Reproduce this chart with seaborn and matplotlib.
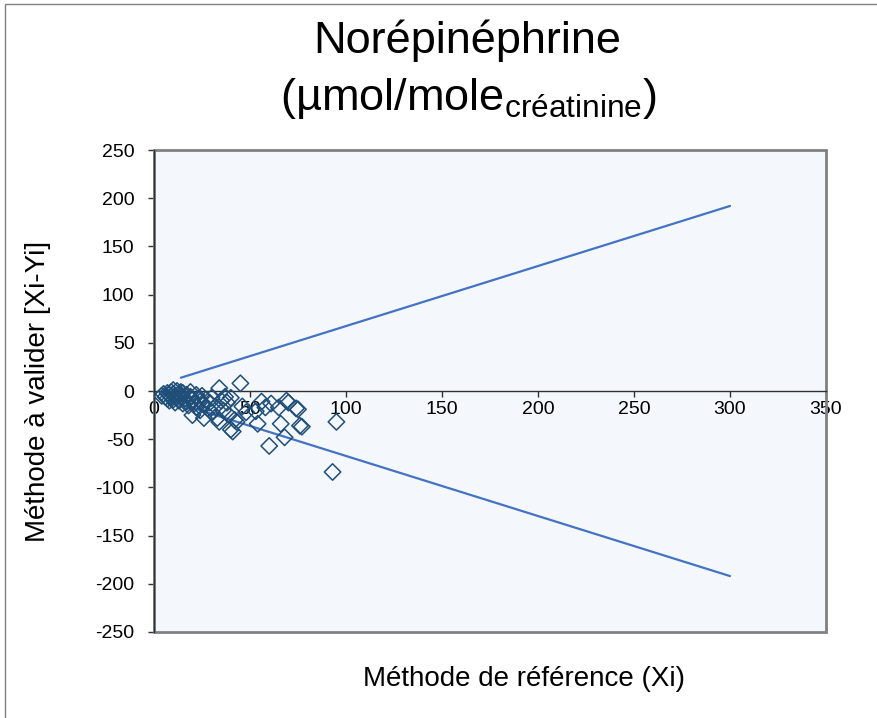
import matplotlib

matplotlib.use("Agg")
import matplotlib.pyplot as plt
import pandas as pd
import seaborn as sns
from matplotlib.patches import Rectangle

# valeurs
ref_x = [4, 5, 6, 7, 7, 8, 8, 9, 9, 10, 10, 10, 11, 11, 12, 12, 13, 13, 14, 14,
         15, 15, 16, 17, 17, 18, 19, 19, 20, 20, 21, 22, 22, 23, 24, 24, 25, 26,
         26, 27, 28, 29, 30, 30, 32, 33, 34, 34, 35, 36, 37, 38, 39, 40, 40, 41,
         42, 43, 45, 46, 48, 53, 54, 56, 58, 60, 61, 65, 66, 68, 69, 70, 74, 75,
         76, 77, 93, 95]
diff_y = [-5, -3, -6, -2, -8, -4, -10, -1, -6, -3, -9, 1, -5, -12, -7, 0, -3, -10,
          -6, -1, -2, -13, -8, -4, -11, -15, -6, -1, -9, -25, -13, -4, -17, -8,
          -11, -20, -5, -14, -28, -9, -18, -12, -7, -22, -16, -28, -32, 3, -10,
          -20, -6, -12, -25, -40, -7, -42, -30, -32, 8, -16, -22, -21, -34, -11,
          -17, -57, -13, -17, -34, -48, -10, -12, -18, -19, -36, -37, -84, -32]

limite_x = [14, 300]
limite_haute = [13.8, 192]
limite_basse = [-13.8, -192]

points = pd.DataFrame({"x": ref_x, "y": diff_y})

sns.set_theme(style="white")
plt.rcParams["font.family"] = ["Liberation Sans", "DejaVu Sans"]
plt.rcParams["axes.unicode_minus"] = False
plt.rcParams["text.color"] = "black"
plt.rcParams["xtick.color"] = "black"
plt.rcParams["ytick.color"] = "black"

fig = plt.figure(figsize=(8.78, 7.18), dpi=100)
ax = fig.add_axes([0.1754, 0.1198, 0.7654, 0.6712])
ax.set_facecolor("#F4F8FC")

sns.scatterplot(data=points, x="x", y="y", ax=ax, marker="D", s=70,
                facecolor="none", edgecolor="#1F4E79", linewidth=1.1, zorder=3)
sns.lineplot(x=limite_x, y=limite_haute, ax=ax, color="#4472C4", linewidth=1.6,
             estimator=None, zorder=2)
sns.lineplot(x=limite_x, y=limite_basse, ax=ax, color="#4472C4", linewidth=1.6,
             estimator=None, zorder=2)

ax.set_xlim(0, 350)
ax.set_ylim(-250, 250)
ax.set_xticks(range(0, 351, 50))
ax.set_yticks(range(-250, 251, 50))

ax.spines["bottom"].set_position(("data", 0))
ax.spines["bottom"].set_color("#303030")
ax.spines["left"].set_color("#303030")
ax.spines["bottom"].set_linewidth(1.0)
ax.spines["left"].set_linewidth(1.0)
for side in ["top", "right"]:
    ax.spines[side].set_visible(False)
ax.add_patch(Rectangle((0, 0), 1, 1, transform=ax.transAxes, fill=False,
                       edgecolor="#808080", linewidth=2, clip_on=False, zorder=1))

ax.tick_params(axis="both", which="major", direction="out", length=4, width=1,
               color="#303030", labelcolor="black", labelsize=14, bottom=True, left=True)
ax.tick_params(axis="y", pad=10)
ax.tick_params(axis="x", pad=3)

ax.set_xlabel("")
ax.set_ylabel("")
fig.text(524 / 878, 1 - 686 / 718, "Méthode de référence (Xi)", ha="center",
         va="baseline", fontsize=20, color="black")
fig.text(0.043, 1 - 391 / 718, "Méthode à valider [Xi-Yi]", ha="center", va="center",
         fontsize=20, rotation=90, color="black")
fig.text(467 / 878, 1 - 53 / 718, "Norépinéphrine", ha="center", va="baseline",
         fontsize=32.5, color="black")
fig.text(468 / 878, 1 - 110 / 718, "(µmol/mole$_{\\mathregular{créatinine}}$)",
         ha="center", va="baseline", fontsize=32.5, color="black")

# cadre de la zone du graphique
fig.add_artist(Rectangle((5 / 878, -0.1), 1.2, 1.1 - 4 / 718, transform=fig.transFigure,
                         fill=False, edgecolor="#808080", linewidth=1))

fig.savefig("out.png", dpi=100)
